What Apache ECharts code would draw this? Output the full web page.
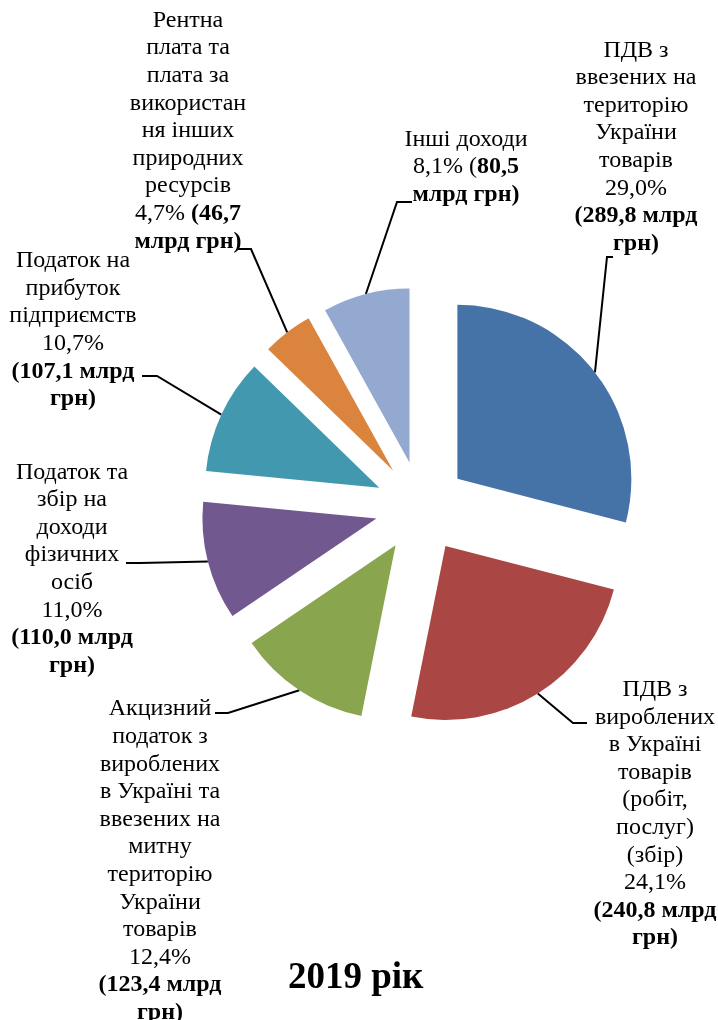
<!DOCTYPE html>
<html>
<head>
<meta charset="utf-8">
<title>2019 рік</title>
<script src="https://cdn.jsdelivr.net/npm/echarts@6/dist/echarts.min.js"></script>
<style>
    html, body { margin: 0; padding: 0; background: #fff; }
    #pie { width: 718px; height: 1020px; }
</style>
</head>
<body>
<div id="pie"></div>
<script>
// дані (млрд грн і частки, %)
var names = [
    'ПДВ з\nввезених на\nтериторію\nУкраїни\nтоварів',
    'ПДВ з\nвироблених\nв Україні\nтоварів\n(робіт,\nпослуг)\n(збір)',
    'Акцизний\nподаток з\nвироблених\nв Україні та\nввезених на\nмитну\nтериторію\nУкраїни\nтоварів',
    'Податок та\nзбір на\nдоходи\nфізичних\nосіб',
    'Податок на\nприбуток\nпідприємств',
    'Рентна\nплата та\nплата за\nвикористан\nня інших\nприродних\nресурсів',
    'Інші доходи'
];
var shares = [29.0, 24.1, 12.4, 11.0, 10.7, 4.7, 8.1];
var amounts = [289.8, 240.8, 123.4, 110.0, 107.1, 46.7, 80.5];
var yearTitle = '2019 рік';

var colors = ['#4572A7', '#AA4643', '#89A54E', '#71588F', '#4198AF', '#DB843D', '#93A9CF'];

// розміщення підписів і виносок
var pieCenter = [421, 507], pieRadius = 174, explode = 46;
var labelAt    = [[636, 147], [655, 814], [160, 861], [72, 569], [73, 330], [188, 131], [466, 167]];
var lineElbow  = [[607, 257], [573, 723], [228, 713], [140, 563], [157, 376], [251, 249], [397, 202]];
var lineAnchor = [[613, 257], [587, 723], [215, 713], [126, 563], [142, 376], [238, 249], [412, 202]];
var tailForm   = ['long', 'long', 'long', 'long', 'long', 'inline', 'inlineOpen'];

var serif = '"Liberation Serif", "Times New Roman", "DejaVu Serif", serif';

function num(v) {
    return v.toFixed(1).replace('.', ',');
}

function labelText(i) {
    var pct = num(shares[i]) + '%';
    var amt = num(amounts[i]);
    var head = names[i].split('\n').map(function (l) { return '{n|' + l + '}'; }).join('\n');
    var tail;
    if (tailForm[i] == 'inline') {
        tail = '{n|' + pct + ' }{b|(' + amt + '}\n{b|млрд грн)}';
    } else if (tailForm[i] == 'inlineOpen') {
        tail = '{n|' + pct + ' (}{b|' + amt + '}\n{b|млрд грн)}';
    } else {
        tail = '{n|' + pct + '}\n{b|(' + amt + ' млрд}\n{b|грн)}';
    }
    return head + '\n' + tail;
}

var chart = echarts.init(document.getElementById('pie'));

var total = 0;
amounts.forEach(function (v) { total += v; });

var series = [];
var acc = 0;
amounts.forEach(function (v, i) {
    var mid = (acc + v / 2) / total * 2 * Math.PI;
    acc += v;
    var cx = pieCenter[0] + explode * Math.sin(mid);
    var cy = pieCenter[1] - explode * Math.cos(mid);

    series.push({
        type: 'pie',
        center: [cx, cy],
        radius: pieRadius,
        startAngle: 90,
        clockwise: true,
        avoidLabelOverlap: false,
        silent: true,
        animation: false,
        emphasis: { disabled: true },
        data: amounts.map(function (a, j) {
            if (j === i) {
                return { value: a, name: names[j], itemStyle: { color: colors[j] } };
            }
            return {
                value: a,
                itemStyle: { color: 'transparent' },
                label: { show: false },
                labelLine: { show: false }
            };
        }),
        label: {
            show: true,
            position: 'outside',
            overflow: 'none',
            color: '#000',
            fontFamily: serif,
            fontSize: 24,
            lineHeight: 27.6,
            align: 'center',
            formatter: function () { return labelText(i); },
            rich: {
                n: { fontFamily: serif, fontSize: 24, lineHeight: 27.6, color: '#000', align: 'center' },
                b: { fontFamily: serif, fontSize: 24, lineHeight: 27.6, color: '#000', align: 'center', fontWeight: 'bold' }
            }
        },
        labelLine: {
            show: true,
            lineStyle: { color: '#000', width: 2 }
        },
        labelLayout: function (p) {
            if (p.dataIndex !== i) return {};
            var lay = chart.getModel().getSeriesByIndex(p.seriesIndex).getData().getItemLayout(p.dataIndex);
            var a = (lay.startAngle + lay.endAngle) / 2;
            var edge = [lay.cx + lay.r * Math.cos(a), lay.cy + lay.r * Math.sin(a)];
            return {
                x: labelAt[i][0],
                y: labelAt[i][1],
                align: 'center',
                verticalAlign: 'middle',
                labelLinePoints: [edge, lineElbow[i], lineAnchor[i]]
            };
        }
    });
});

var option = {
    backgroundColor: '#fff',
    animation: false,
    title: {
        text: yearTitle,
        left: 288,
        top: 960,
        padding: 0,
        textStyle: { fontFamily: serif, fontSize: 37, fontWeight: 'bold', color: '#000' }
    },
    series: series
};

chart.setOption(option);
</script>
</body>
</html>
